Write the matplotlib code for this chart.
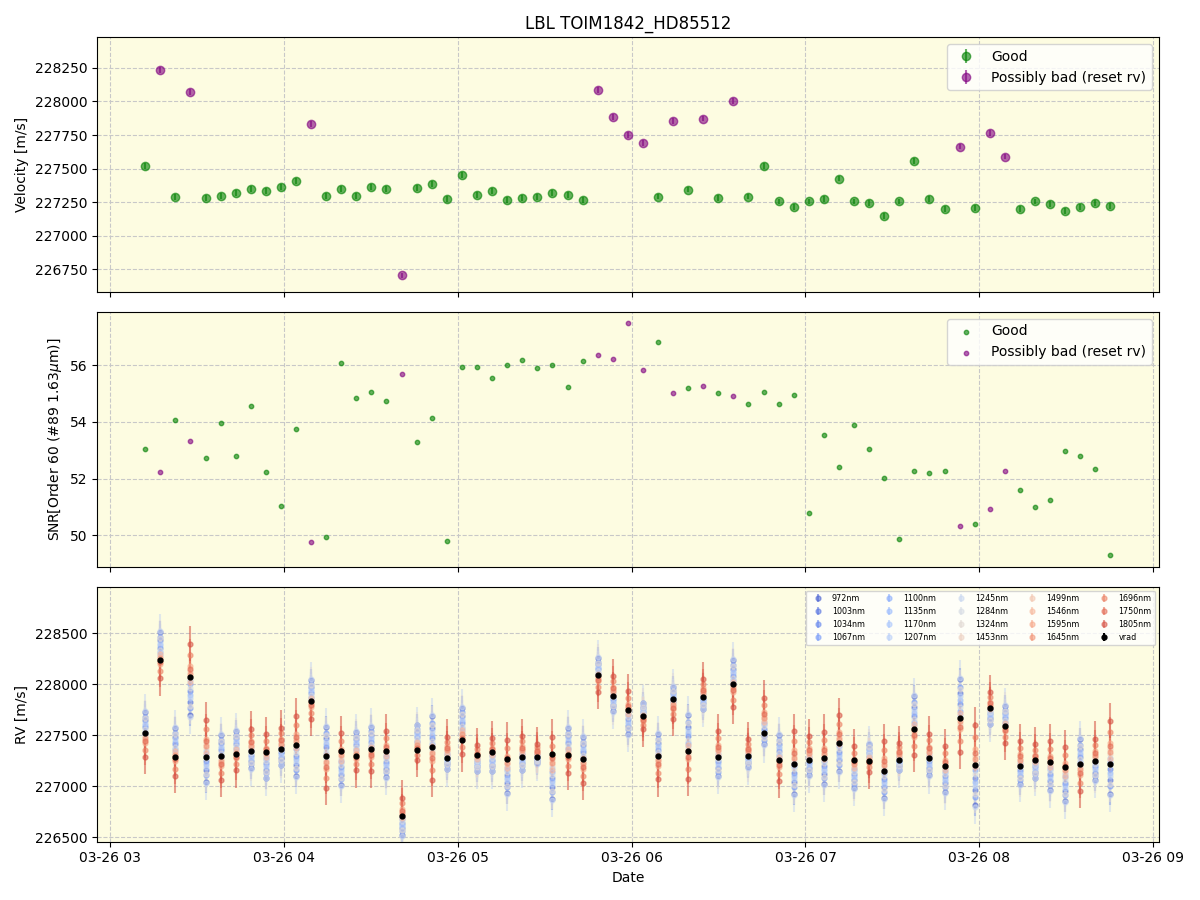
import matplotlib
matplotlib.use("Agg")
import matplotlib.pyplot as plt
import matplotlib.dates as mdates
from matplotlib.ticker import MultipleLocator
import numpy as np
import pandas as pd

# observation times (2024-03-26)
times = [
    "03:12:12", "03:17:24", "03:22:36", "03:27:49", "03:33:01", "03:38:13", "03:43:25", "03:48:37",
    "03:53:50", "03:59:02", "04:04:14", "04:09:26", "04:14:38", "04:19:51", "04:25:03", "04:30:15",
    "04:35:27", "04:40:39", "04:45:52", "04:51:04", "04:56:16", "05:01:28", "05:06:40", "05:11:53",
    "05:17:05", "05:22:17", "05:27:29", "05:32:41", "05:37:54", "05:43:06", "05:48:18", "05:53:30",
    "05:58:42", "06:03:55", "06:09:07", "06:14:19", "06:19:31", "06:24:43", "06:29:56", "06:35:08",
    "06:40:20", "06:45:32", "06:50:44", "06:55:57", "07:01:09", "07:06:21", "07:11:33", "07:16:45",
    "07:21:58", "07:27:10", "07:32:22", "07:37:34", "07:42:46", "07:47:59", "07:53:11", "07:58:23",
    "08:03:35", "08:08:47", "08:14:00", "08:19:12", "08:24:24", "08:29:36", "08:34:48", "08:40:01",
    "08:45:13",
]

vrad = [
    227519, 228235, 227287, 228071, 227280, 227295, 227317, 227347, 227332, 227364,
    227407, 227832, 227295, 227347, 227295, 227364, 227347, 226705, 227355, 227384,
    227272, 227451, 227302, 227332, 227265, 227280, 227287, 227317, 227302, 227265,
    228086, 227884, 227750, 227690, 227290, 227854, 227342, 227872, 227280, 228004,
    227290, 227519, 227257, 227215, 227257, 227272, 227424, 227257, 227243, 227148,
    227257, 227556, 227272, 227198, 227663, 227205, 227765, 227588, 227198, 227257,
    227235, 227183, 227215, 227243, 227220,
]
VRAD_ERR = 20

# epochs flagged "possibly bad (reset rv)"
bad_idx = [1, 3, 11, 17, 30, 31, 32, 33, 35, 37, 39, 54, 56, 57]

snr = [
    53.03, 52.22, 54.06, 53.32, 52.72, 53.95, 52.79, 54.55, 52.22, 51.02,
    53.74, 49.75, 49.93, 56.07, 54.84, 55.05, 54.73, 55.68, 53.28, 54.13,
    49.79, 55.93, 55.93, 55.54, 56.00, 56.18, 55.89, 56.00, 55.22, 56.14,
    56.35, 56.21, 57.48, 55.82, 56.81, 55.01, 55.19, 55.26, 55.01, 54.91,
    54.62, 55.05, 54.62, 54.94, 50.78, 53.53, 52.40, 53.88, 53.03, 52.01,
    49.86, 52.26, 52.19, 52.26, 50.32, 50.39, 50.92, 52.26, 51.59, 50.99,
    51.23, 52.96, 52.79, 52.33, 49.29,
]

wavelengths = [972, 1003, 1034, 1067, 1100, 1135, 1170, 1207, 1245, 1284,
               1324, 1453, 1499, 1546, 1595, 1645, 1696, 1750, 1805]
wave_err = [110, 120, 110, 120, 120, 130, 140, 150, 170, 170,
            180, 200, 150, 130, 120, 130, 150, 160, 170]
# where each band tends to sit inside the per-epoch spread (0 = blue end, 1 = red end)
wave_pos = [0.02, 0.20, 0.35, 0.12, 0.45, 0.30, 0.50, 0.25, 0.00, 0.40,
            0.15, 0.55, 0.62, 0.48, 0.70, 0.58, 0.85, 0.66, 1.00]

# highest / lowest per-band RV at each epoch, and whether the red end is on top (+1)
band_hi = [
    227735, 228520, 227578, 228395, 227650, 227507, 227549, 227562, 227507, 227572,
    227690, 228046, 227591, 227516, 227539, 227591, 227539, 226886, 227601, 227696,
    227484, 227778, 227399, 227471, 227454, 227490, 227408, 227484, 227578, 227490,
    228261, 228078, 227931, 227817, 227516, 227980, 227709, 228046, 227539, 228245,
    227458, 227866, 227507, 227539, 227487, 227533, 227696, 227389, 227422, 227441,
    227422, 227892, 227513, 227392, 228062, 227601, 227918, 227794, 227441, 227408,
    227441, 227382, 227467, 227464, 227641,
]
band_lo = [
    227284, 228056, 227098, 227680, 227029, 227059, 227154, 227170, 227075, 227203,
    227088, 227660, 226984, 227003, 227154, 227150, 227078, 226510, 227255, 227059,
    227163, 227310, 227144, 227144, 226922, 227154, 227219, 226863, 227131, 227033,
    227925, 227729, 227503, 227556, 227065, 227660, 227072, 227752, 227088, 227778,
    227180, 227399, 227049, 226912, 227098, 227013, 227141, 226974, 227141, 226873,
    227154, 227304, 227095, 226935, 227337, 226797, 227605, 227425, 227010, 227075,
    226951, 226846, 226954, 227049, 226912,
]
red_up = [
    -1, -1, -1, 1, 1, -1, -1, 1, 1, 1, 1, -1, -1, 1, -1, -1, 1, 1, -1, -1,
    1, -1, 1, 1, 1, 1, 1, 1, -1, -1, -1, 1, 1, -1, -1, -1, -1, 1, 1, -1,
    1, 1, -1, 1, 1, 1, 1, 1, -1, 1, 1, -1, 1, 1, -1, 1, 1, -1, 1, 1,
    1, 1, -1, 1, 1,
]

dates = pd.to_datetime(["2024-03-26 " + t for t in times])
vrad = np.array(vrad, dtype=float)
snr = np.array(snr)
hi = np.array(band_hi, dtype=float)
lo = np.array(band_lo, dtype=float)
up = np.array(red_up)
good = np.ones(len(vrad), dtype=bool)
good[bad_idx] = False
bad = ~good
verr = np.full(len(vrad), VRAD_ERR)

bg = "#fdfce1"
fig, axes = plt.subplots(3, 1, figsize=(12, 9), sharex=True)
for ax in axes:
    ax.set_facecolor(bg)
    ax.grid(True, linestyle="--", color="#c8c8c8", linewidth=0.8)
    ax.set_axisbelow(True)

# velocity
ax = axes[0]
ax.errorbar(dates[good], vrad[good], yerr=verr[good], fmt="o", color="green",
            alpha=0.6, ms=6, label="Good")
ax.errorbar(dates[bad], vrad[bad], yerr=verr[bad], fmt="o", color="purple",
            alpha=0.6, ms=6, label="Possibly bad (reset rv)")
ax.set_ylabel("Velocity [m/s]")
ax.set_title("LBL TOIM1842_HD85512")
ax.yaxis.set_major_locator(MultipleLocator(250))
ax.ticklabel_format(axis="y", useOffset=False, style="plain")
ax.set_ylim(226580, 228480)
ax.legend(loc="upper right")

# SNR
ax = axes[1]
ax.scatter(dates[good], snr[good], s=10, color="green", alpha=0.6, label="Good")
ax.scatter(dates[bad], snr[bad], s=10, color="purple", alpha=0.6,
           label="Possibly bad (reset rv)")
ax.set_ylabel(r"SNR[Order 60 (#89 1.63$\mu$m)]")
ax.legend(loc="upper right")

# per-band RV
ax = axes[2]
cmap = plt.get_cmap("coolwarm")
n = len(wavelengths)
for j, w in enumerate(wavelengths):
    f = wave_pos[j]
    rv = np.where(up > 0, lo + f * (hi - lo), hi - f * (hi - lo))
    ax.errorbar(dates, rv, yerr=wave_err[j], fmt="o",
                color=cmap(0.05 + 0.85 * j / (n - 1)),
                alpha=0.55, ms=3.5, elinewidth=1.5, label=f"{w}nm")
ax.errorbar(dates, vrad, yerr=verr, fmt="o", color="black", ms=3.5,
            elinewidth=1.5, label="vrad")
ax.set_ylabel("RV [m/s]")
ax.set_xlabel("Date")
ax.yaxis.set_major_locator(MultipleLocator(500))
ax.ticklabel_format(axis="y", useOffset=False, style="plain")
ax.set_ylim(226454, 228954)
ax.legend(loc="upper right", ncol=5, fontsize=5.75)

ax.xaxis.set_major_locator(mdates.HourLocator())
ax.xaxis.set_major_formatter(mdates.DateFormatter("%m-%d %H"))

plt.tight_layout()
plt.savefig("out.png", dpi=100)
plt.close()
